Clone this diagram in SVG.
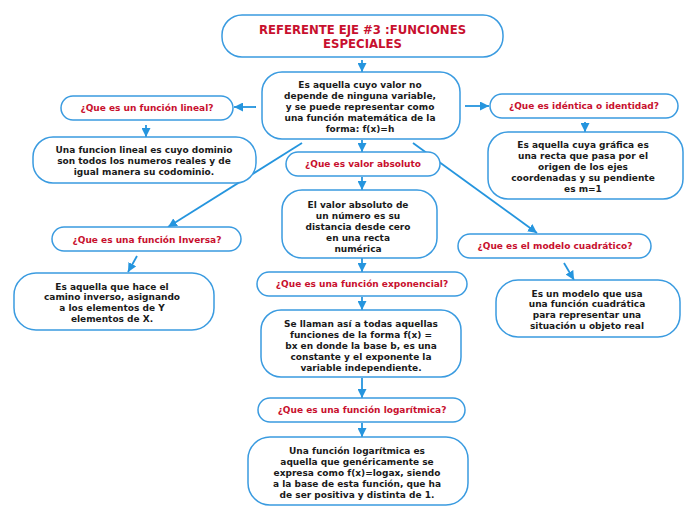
<svg xmlns="http://www.w3.org/2000/svg" width="696" height="520" viewBox="0 0 696 520">
<defs>
<style>
.box{fill:#ffffff;stroke:#3a9be0;stroke-width:1.5}
.t{font-family:"DejaVu Sans",Verdana,sans-serif;font-weight:bold;font-size:9px;fill:#1a1a1a;text-anchor:middle}
.q{font-family:"DejaVu Sans",Verdana,sans-serif;font-weight:bold;font-size:9px;fill:#c8102e;text-anchor:middle}
.title{font-family:"DejaVu Sans",Verdana,sans-serif;font-weight:bold;font-size:11.7px;fill:#c8102e;text-anchor:middle}
.c{stroke:#2595de;stroke-width:1.8;fill:none;marker-end:url(#ah)}
</style>
<marker id="ah" viewBox="0 0 10 10" refX="10" refY="5" markerWidth="9" markerHeight="9" markerUnits="userSpaceOnUse" orient="auto">
<path d="M0,0 L10,5 L0,10 z" fill="#2595de"/>
</marker>
</defs>
<rect width="696" height="520" fill="#ffffff"/>
<g id="connectors">
<line class="c" x1="362" y1="60" x2="362" y2="72"/>
<line class="c" x1="256" y1="107" x2="234" y2="107"/>
<line class="c" x1="146" y1="125" x2="146" y2="137"/>
<line class="c" x1="465" y1="106" x2="489" y2="106"/>
<line class="c" x1="585" y1="122" x2="585" y2="132"/>
<line class="c" x1="362" y1="140" x2="362" y2="152"/>
<line class="c" x1="362" y1="177" x2="362" y2="190"/>
<line class="c" x1="302" y1="143" x2="168" y2="227"/>
<line class="c" x1="413" y1="143" x2="537" y2="233"/>
<line class="c" x1="137" y1="256" x2="128" y2="272"/>
<line class="c" x1="564" y1="263" x2="574" y2="280"/>
<line class="c" x1="362" y1="258" x2="362" y2="272"/>
<line class="c" x1="362" y1="297" x2="362" y2="310"/>
<line class="c" x1="362" y1="378" x2="362" y2="398"/>
<line class="c" x1="362" y1="423" x2="362" y2="437"/>
</g>
<g id="title">
<rect class="box" x="222" y="15" width="281" height="42" rx="20"/>
<text class="title" x="362.5" y="33.5">REFERENTE EJE #3 :FUNCIONES</text>
<text class="title" x="362.5" y="47.5">ESPECIALES</text>
</g>
<g id="main">
<rect class="box" x="262" y="72" width="198" height="67" rx="20"/>
<text class="t" x="360" y="87.5">Es aquella cuyo valor no</text>
<text class="t" x="360" y="98.5">depende de ninguna variable,</text>
<text class="t" x="360" y="109.5">y se puede representar como</text>
<text class="t" x="360" y="120.5">una función matemática de la</text>
<text class="t" x="360" y="131.5">forma: f(x)=h</text>
</g>
<g id="q-lineal">
<rect class="box" x="61" y="96" width="172" height="24" rx="12"/>
<text class="q" x="147" y="111.3">¿Que es un función lineal?</text>
</g>
<g id="a-lineal">
<rect class="box" x="33" y="137" width="223" height="46" rx="20"/>
<text class="t" x="144" y="152.5">Una funcion lineal es cuyo dominio</text>
<text class="t" x="144" y="163.5">son todos los numeros reales y de</text>
<text class="t" x="144" y="174.5">igual manera su codominio.</text>
</g>
<g id="q-identidad">
<rect class="box" x="490" y="94" width="188" height="24" rx="12"/>
<text class="q" x="584" y="109.3">¿Que es idéntica o identidad?</text>
</g>
<g id="a-identidad">
<rect class="box" x="488" y="132" width="195" height="67" rx="20"/>
<text class="t" x="583" y="147.5">Es aquella cuya gráfica es</text>
<text class="t" x="583" y="158.5">una recta que pasa por el</text>
<text class="t" x="583" y="169.5">origen de los ejes</text>
<text class="t" x="583" y="180.5">coordenadas y su pendiente</text>
<text class="t" x="583" y="191.5">es m=1</text>
</g>
<g id="q-absoluto">
<rect class="box" x="286" y="152" width="154" height="24" rx="12"/>
<text class="q" x="363" y="167.3">¿Que es valor absoluto</text>
</g>
<g id="a-absoluto">
<rect class="box" x="282" y="190" width="155" height="68" rx="20"/>
<text class="t" x="358" y="207.5">El valor absoluto de</text>
<text class="t" x="358" y="218.5">un número es su</text>
<text class="t" x="358" y="229.5">distancia desde cero</text>
<text class="t" x="358" y="240.5">en una recta</text>
<text class="t" x="358" y="251.5">numérica</text>
</g>
<g id="q-inversa">
<rect class="box" x="52" y="227" width="189" height="24" rx="12"/>
<text class="q" x="147" y="243.3">¿Que es una función Inversa?</text>
</g>
<g id="a-inversa">
<rect class="box" x="14" y="273" width="200" height="57" rx="22"/>
<text class="t" x="112" y="289.5">Es aquella que hace el</text>
<text class="t" x="112" y="300.3">camino inverso, asignando</text>
<text class="t" x="112" y="311">a los elementos de Y</text>
<text class="t" x="112" y="321.7">elementos de X.</text>
</g>
<g id="q-cuadratico">
<rect class="box" x="458" y="234" width="193" height="24" rx="12"/>
<text class="q" x="555" y="249.3">¿Que es el modelo cuadrático?</text>
</g>
<g id="a-cuadratico">
<rect class="box" x="496" y="280" width="184" height="57" rx="22"/>
<text class="t" x="587" y="296.5">Es un modelo que usa</text>
<text class="t" x="587" y="307.2">una función cuadrática</text>
<text class="t" x="587" y="317.9">para representar una</text>
<text class="t" x="587" y="328.6">situación u objeto real</text>
</g>
<g id="q-exponencial">
<rect class="box" x="257" y="272" width="210" height="24" rx="12"/>
<text class="q" x="362" y="287.3">¿Que es una función exponencial?</text>
</g>
<g id="a-exponencial">
<rect class="box" x="261" y="310" width="200" height="67" rx="20"/>
<text class="t" x="361" y="326.5">Se llaman así a todas aquellas</text>
<text class="t" x="361" y="337.5">funciones de la forma f(x) =</text>
<text class="t" x="361" y="348.5">bx en donde la base b, es una</text>
<text class="t" x="361" y="359.5">constante y el exponente la</text>
<text class="t" x="361" y="370.5">variable independiente.</text>
</g>
<g id="q-logaritmica">
<rect class="box" x="258" y="398" width="207" height="24" rx="12"/>
<text class="q" x="362" y="413.3">¿Que es una función logarítmica?</text>
</g>
<g id="a-logaritmica">
<rect class="box" x="248" y="437" width="220" height="68" rx="22"/>
<text class="t" x="357" y="453.5">Una función logarítmica es</text>
<text class="t" x="357" y="464.5">aquella que genéricamente se</text>
<text class="t" x="357" y="475.5">expresa como f(x)=logax, siendo</text>
<text class="t" x="357" y="486.5">a la base de esta función, que ha</text>
<text class="t" x="357" y="497.5">de ser positiva y distinta de 1.</text>
</g>
</svg>
